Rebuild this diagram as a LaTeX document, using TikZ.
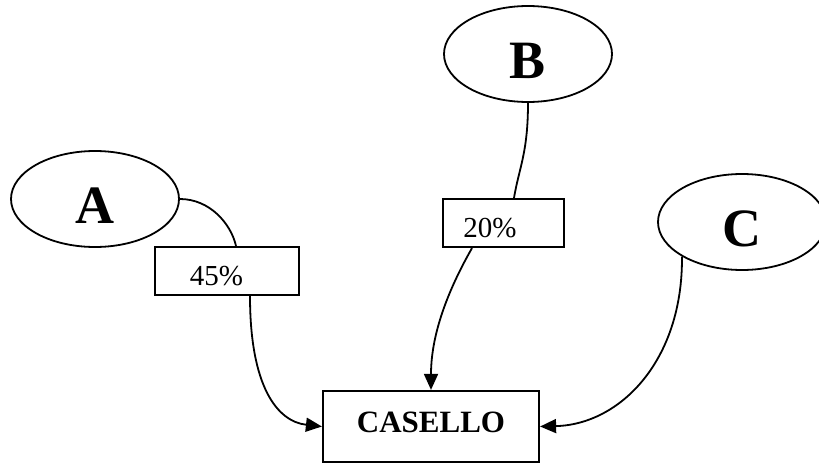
\documentclass[tikz,border=0pt]{standalone}
\usepackage{fontspec}
\setmainfont{Liberation Serif}
\usetikzlibrary{arrows.meta,shapes.geometric}
\begin{document}
\begin{tikzpicture}[x=1pt,y=-1pt,
  oval/.style={draw,line width=1.8pt,ellipse,minimum width=168pt,minimum height=96pt,inner sep=0pt,
    font=\fontsize{54}{60}\selectfont\bfseries,text height=48pt,text depth=0pt},
  pbox/.style={draw,line width=2.2pt,rectangle,inner sep=0pt},
  ptext/.style={anchor=base,inner sep=0pt,font=\fontsize{29}{34}\selectfont},
  conn/.style={line width=1.8pt},
  arr/.style={conn,-{Triangle[length=16pt,width=14pt]}}]
\useasboundingbox (0,0) rectangle (819,463);
\node[oval] (A) at (95,199) {A};
\node[oval] (B) at (528,54) {B};
\node[oval] (C) at (742,222) {C};
\node[pbox,minimum width=144pt,minimum height=48pt] (p45) at (227,271) {};
\node[ptext] (t45) at (216.5,285) {45\%};
\node[pbox,minimum width=121pt,minimum height=48pt] (p20) at (503.5,223) {};
\node[ptext] (t20) at (490,237) {20\%};
\node[pbox,minimum width=216pt,minimum height=71pt] (cas) at (431,426.5) {};
\node[anchor=base,inner sep=0pt,font=\fontsize{31}{36}\selectfont\bfseries] (tcas) at (431,432) {CASELLO};
\draw[conn] (A.east) .. controls +(30,0) and +(-5,-22) .. ([xshift=9pt]p45.north);
\draw[arr] ([xshift=23pt]p45.south) .. controls +(0,90) and +(-45,-5) .. (cas.west);
\draw[conn] (B.south) .. controls +(0,50) and +(5,-30) .. ([xshift=10.5pt]p20.north);
\draw[arr] ([xshift=-31.5pt]p20.south) .. controls +(-20,35) and +(0,-60) .. (cas.north);
\draw[arr] (C.south west) .. controls +(1,104) and +(80,-2) .. (cas.east);
\end{tikzpicture}
\end{document}
